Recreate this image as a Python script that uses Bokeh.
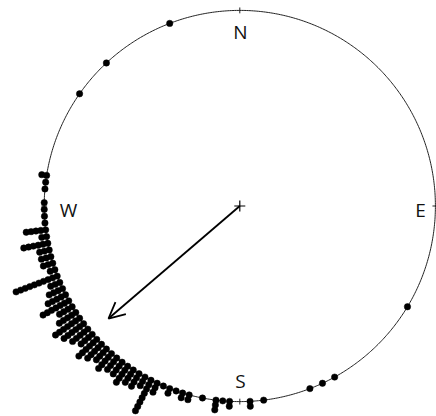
import numpy as np
from bokeh.plotting import figure
from bokeh.models import Arrow, OpenHead, Range1d
from bokeh.core.properties import value
from bokeh.embed import file_html
from bokeh.resources import INLINE

# binned directions (degrees, counter-clockwise from East) and number of observations per bin
bin_angles = [111, 133, 145, 171, 173, 175, 179, 181,
              183, 185, 187, 189, 191, 193, 195, 197, 199, 201, 203, 205,
              207, 209, 211, 213, 215, 217, 219, 221, 223, 225, 227, 229,
              231, 233, 235, 237, 239, 241, 243, 245, 247, 249, 251, 253,
              255, 259, 263, 265, 267, 273, 277, 291, 295, 299, 329]
bin_counts = [1, 1, 1, 2, 1, 1, 1, 1,
              1, 1, 5, 2, 6, 3, 3, 3, 2, 10, 3, 4,
              5, 7, 4, 5, 7, 6, 5, 4, 6, 5, 4, 5,
              4, 4, 5, 4, 4, 3, 8, 3, 1, 2, 1, 2,
              2, 1, 3, 1, 2, 2, 1, 1, 1, 1, 1]

# mean direction (degrees) and mean resultant length
mean_direction = 220.6
mean_resultant = 0.884

compass_labels = ["E", "N", "W", "S"]
compass_angles = [0, 90, 180, 270]

sep = 0.025
scale = 195.6  # px per unit radius
cx, cy = 239.3, 205.5  # circle centre in picture px
W, H = 436, 416

p = figure(width=W, height=H, output_backend="svg", toolbar_location=None,
           min_border=0, outline_line_color=None)
p.x_range = Range1d((0 - cx) / scale, (W - cx) / scale)
p.y_range = Range1d((cy - H) / scale, (cy - 0) / scale)
p.axis.visible = False
p.grid.visible = False

# circle
t = np.linspace(0, 2 * np.pi, 721)
p.line(np.cos(t), np.sin(t), line_color="#222222", line_width=1)

# compass ticks
for a in compass_angles:
    r = np.radians(a)
    p.line([0.985 * np.cos(r), 1.015 * np.cos(r)], [0.985 * np.sin(r), 1.015 * np.sin(r)],
           line_color="#222222", line_width=1)

# stacked points
xs, ys = [], []
for a, n in zip(bin_angles, bin_counts):
    r = np.radians(a)
    for k in range(n):
        rad = 1 + k * sep
        xs.append(rad * np.cos(r))
        ys.append(rad * np.sin(r))
p.scatter(xs, ys, size=6.4, fill_color="black", line_color="black", line_width=0.5)

# compass labels
lab_pos = {"E": (0.924, -0.018), "N": (0.003, 0.892), "W": (-0.876, -0.018), "S": (0.003, -0.897)}
lx = [lab_pos[l][0] for l in compass_labels]
ly = [lab_pos[l][1] for l in compass_labels]
p.text(lx, ly, text=compass_labels, text_font=value("Open Sans"), text_font_size="19px",
       text_align="center", text_baseline="middle", text_color="#111111")

# centre cross
p.scatter([0], [0], marker="cross", size=11, line_color="black", line_width=1.2)

# mean resultant arrow
mr = np.radians(mean_direction)
p.add_layout(Arrow(end=OpenHead(size=16, line_width=1.8, line_color="black"),
                   x_start=0, y_start=0,
                   x_end=mean_resultant * np.cos(mr), y_end=mean_resultant * np.sin(mr),
                   line_width=1.8, line_color="black"))

open("out.html", "w").write(file_html(p, INLINE))
